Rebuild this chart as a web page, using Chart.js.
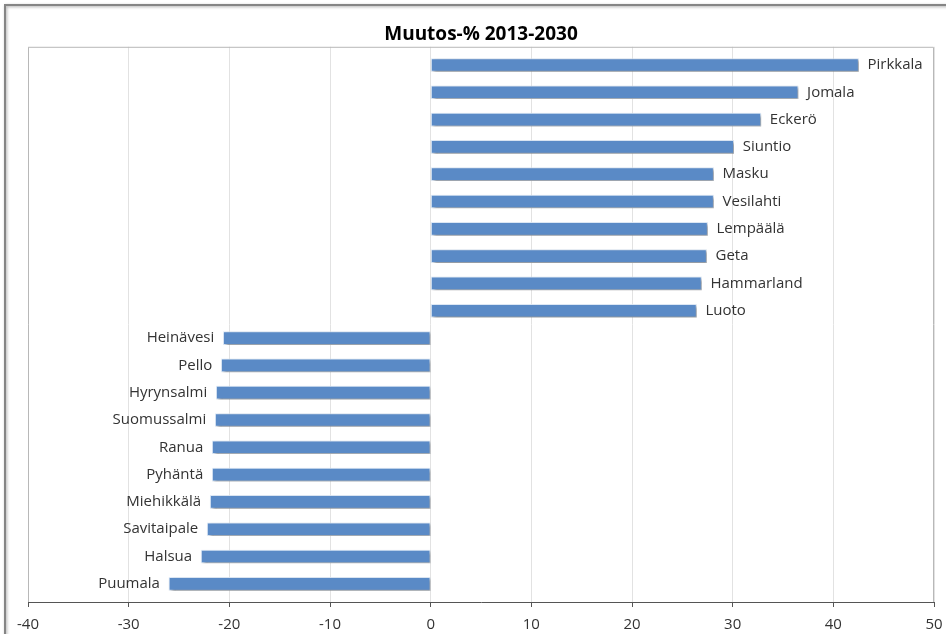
<!DOCTYPE html>
<html>
<head>
<meta charset="utf-8">
<script src="https://cdn.jsdelivr.net/npm/chart.js@4"></script>
<style>
  body { margin: 0; background: #fff; }
  #wrap { width: 946px; height: 634px; position: relative; }
</style>
</head>
<body>
<div id="wrap"><canvas id="myChart" width="946" height="634"></canvas></div>
<script>
// kunnat, ylhäältä alas
var categories = ['Pirkkala', 'Jomala', 'Eckerö', 'Siuntio', 'Masku', 'Vesilahti', 'Lempäälä', 'Geta', 'Hammarland', 'Luoto',
    'Heinävesi', 'Pello', 'Hyrynsalmi', 'Suomussalmi', 'Ranua', 'Pyhäntä', 'Miehikkälä', 'Savitaipale', 'Halsua', 'Puumala'];
var muutos = [42.5, 36.5, 32.8, 30.1, 28.1, 28.1, 27.5, 27.4, 26.9, 26.4,
    -20.6, -20.8, -21.3, -21.4, -21.7, -21.7, -21.9, -22.2, -22.8, -26.0];
var xTicks = [-40, -30, -20, -10, 0, 10, 20, 30, 40, 50];
var title = 'Muutos-% 2013-2030';

var fontFamily = "'Open Sans', 'DejaVu Sans', sans-serif";

// rows as index positions so the category band can keep Excel's end gaps
var points = muutos.map(function (v, i) { return { x: v, y: i }; });

var framePlugin = {
    id: 'frame',
    beforeDraw: function (chart) {
        var ctx = chart.ctx;
        ctx.save();
        ctx.fillStyle = '#fff';
        ctx.fillRect(0, 0, chart.width, chart.height);
        // outer frame with soft shadow
        ctx.shadowColor = 'rgba(0,0,0,0.35)';
        ctx.shadowBlur = 3;
        ctx.shadowOffsetX = 1;
        ctx.shadowOffsetY = 1;
        ctx.strokeStyle = '#858585';
        ctx.lineWidth = 2;
        ctx.strokeRect(5, 5, 980, 700);
        ctx.restore();
    },
    afterDraw: function (chart) {
        var a = chart.chartArea, ctx = chart.ctx;
        ctx.save();
        ctx.strokeStyle = '#b8b8b8';
        ctx.lineWidth = 1;
        ctx.beginPath();
        ctx.moveTo(a.left + 0.5, a.bottom);
        ctx.lineTo(a.left + 0.5, a.top + 0.5);
        ctx.lineTo(a.right - 0.5, a.top + 0.5);
        ctx.lineTo(a.right - 0.5, a.bottom);
        ctx.stroke();
        ctx.restore();
    }
};

var shadowPlugin = {
    id: 'barShadow',
    beforeDatasetsDraw: function (chart) {
        var ctx = chart.ctx;
        ctx.save();
        ctx.shadowColor = 'rgba(0,0,0,0.4)';
        ctx.shadowBlur = 3;
        ctx.shadowOffsetX = 2;
        ctx.shadowOffsetY = 2;
    },
    afterDatasetsDraw: function (chart) {
        var ctx = chart.ctx;
        ctx.restore();
        // category names next to bar ends
        var meta = chart.getDatasetMeta(0);
        ctx.save();
        ctx.font = '15px ' + fontFamily;
        ctx.fillStyle = '#333';
        ctx.textBaseline = 'middle';
        meta.data.forEach(function (bar, i) {
            var v = muutos[i];
            if (v >= 0) {
                ctx.textAlign = 'left';
                ctx.fillText(categories[i], bar.x + 9, bar.y);
            } else {
                ctx.textAlign = 'right';
                ctx.fillText(categories[i], bar.x - 9, bar.y);
            }
        });
        ctx.restore();
    }
};

var ctx = document.getElementById('myChart').getContext('2d');
var myChart = new Chart(ctx, {
    type: 'bar',
    data: {
        datasets: [{
            label: 'Muutos-%',
            data: points,
            backgroundColor: '#5a8ac6',
            borderColor: 'rgba(220,232,246,0.9)',
            borderWidth: 1,
            borderSkipped: false,
            barThickness: 13
        }]
    },
    options: {
        indexAxis: 'y',
        responsive: false,
        animation: false,
        layout: {
            padding: { left: 28, right: 12, top: 0, bottom: 1 }
        },
        plugins: {
            legend: { display: false },
            tooltip: { enabled: false },
            title: {
                display: true,
                text: title,
                color: '#000',
                font: { family: fontFamily, size: 19, weight: 'bold' },
                padding: { top: 23, bottom: 1 }
            }
        },
        scales: {
            x: {
                min: -40,
                max: 50,
                afterBuildTicks: function (axis) {
                    axis.ticks = xTicks.map(function (v) { return { value: v }; });
                },
                afterFit: function (axis) {
                    axis.height = 31;
                    axis.paddingLeft = 0;
                    axis.paddingRight = 0;
                },
                grid: {
                    color: '#e2e2e2',
                    tickColor: '#555',
                    tickLength: 5,
                    drawTicks: true
                },
                border: { color: '#555', width: 1 },
                ticks: {
                    color: '#333',
                    padding: 9,
                    maxRotation: 0,
                    font: { family: fontFamily, size: 15 }
                }
            },
            y: {
                type: 'linear',
                reverse: true,
                offset: false,
                min: -0.665,
                max: categories.length - 1 + 0.665,
                display: false
            }
        }
    },
    plugins: [framePlugin, shadowPlugin]
});
</script>
</body>
</html>
